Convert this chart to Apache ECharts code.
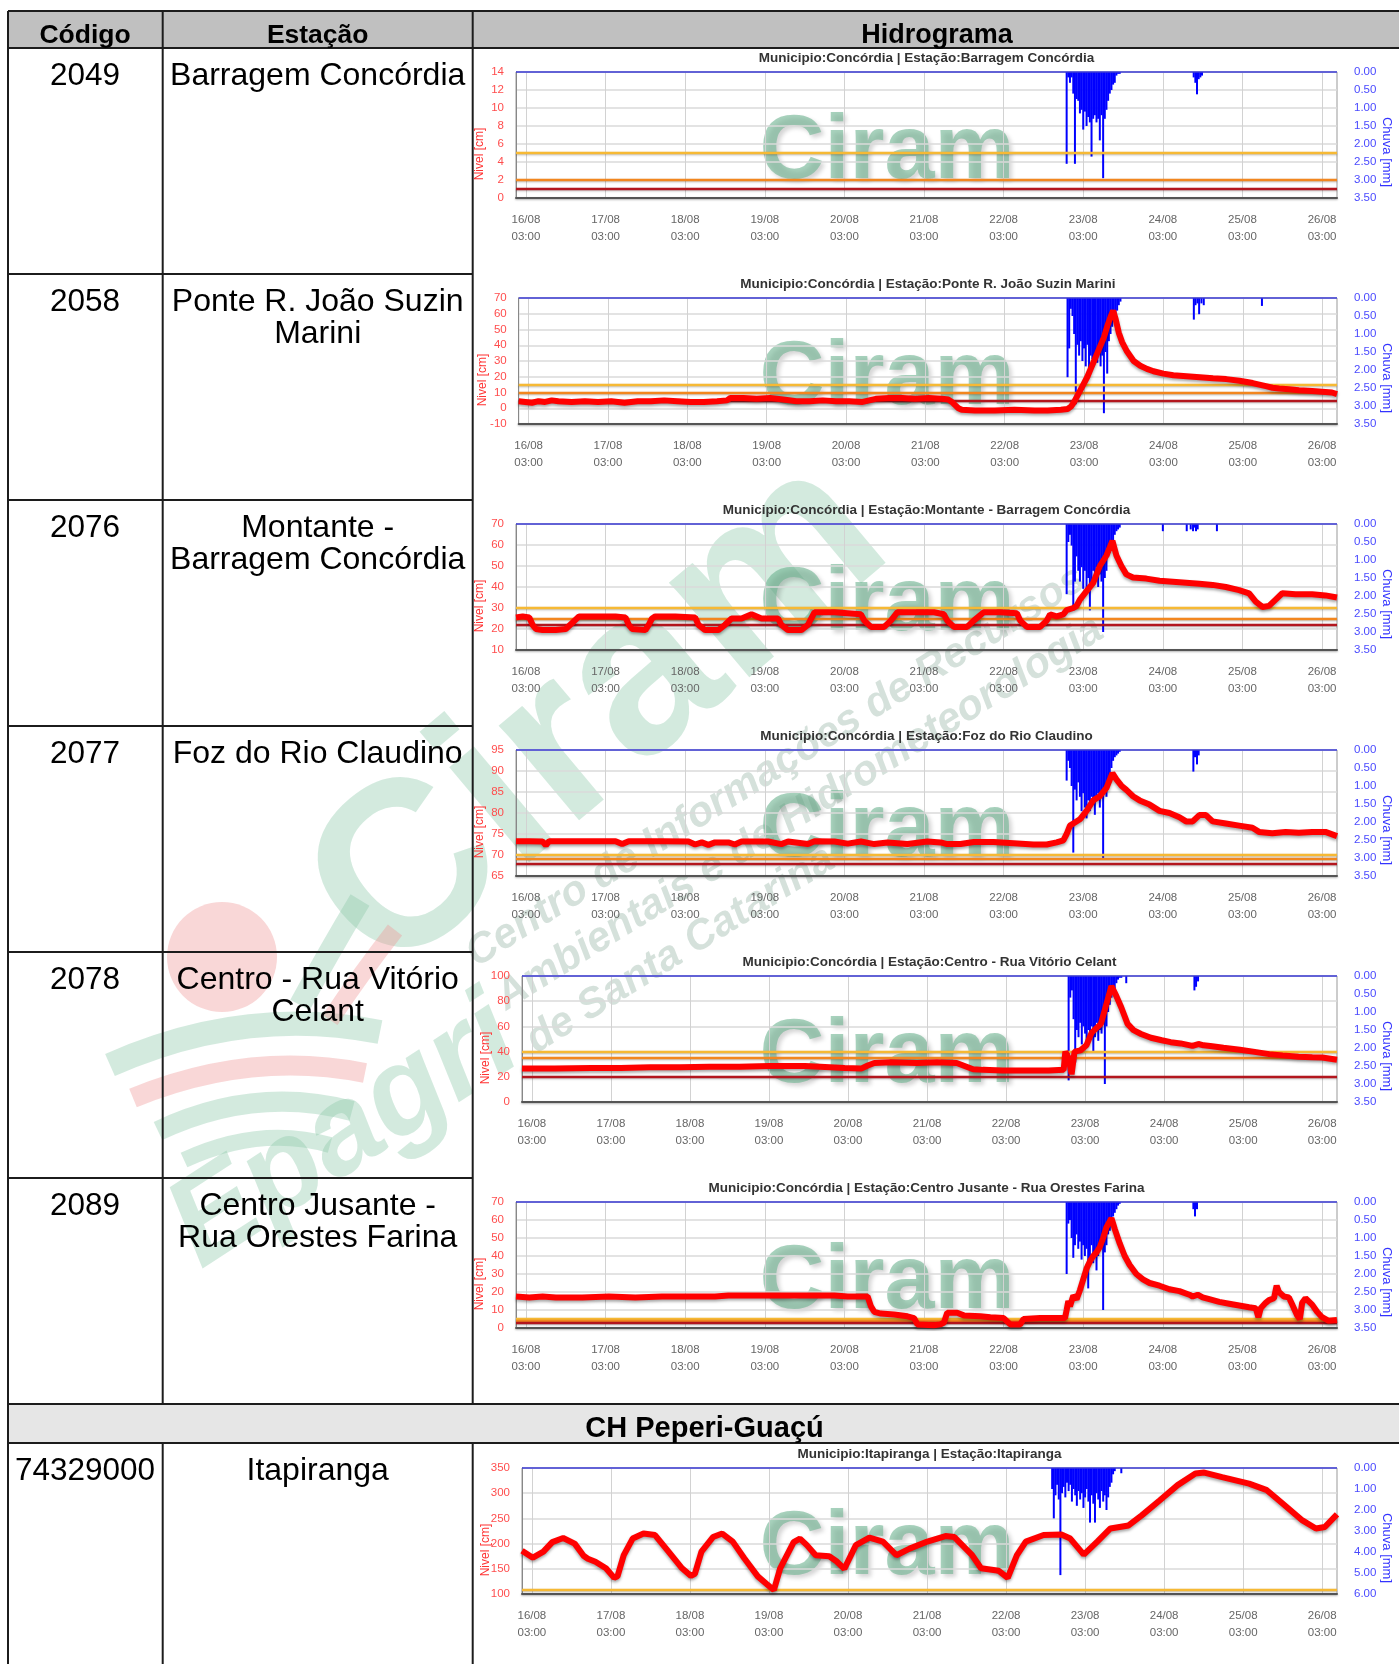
<!DOCTYPE html>
<html>
<head>
<meta charset="utf-8">
<title>Hidrogramas</title>
<script src="https://cdn.jsdelivr.net/npm/echarts@6/dist/echarts.min.js"></script>
<style>
  html, body { margin: 0; padding: 0; background: #fff; }
  #main { width: 1399px; height: 1664px; }
</style>
</head>
<body>
<div id="main"></div>
<script>
// eixo do tempo: horas desde 16/08 00:00
const TICK_HOURS = [3, 27, 51, 75, 99, 123, 147, 171, 195, 219, 243];
const TICK_DAYS = ['16/08', '17/08', '18/08', '19/08', '20/08', '21/08', '22/08', '23/08', '24/08', '25/08', '26/08'];

const CODES = ['2049', '2058', '2076', '2077', '2078', '2089', '74329000'];
const NAMES = [
  ['Barragem Concórdia'],
  ['Ponte R. João Suzin', 'Marini'],
  ['Montante -', 'Barragem Concórdia'],
  ['Foz do Rio Claudino'],
  ['Centro - Rua Vitório', 'Celant'],
  ['Centro Jusante -', 'Rua Orestes Farina'],
  ['Itapiranga']
];
const TITLES = [
  'Municipio:Concórdia | Estação:Barragem Concórdia',
  'Municipio:Concórdia | Estação:Ponte R. João Suzin Marini',
  'Municipio:Concórdia | Estação:Montante - Barragem Concórdia',
  'Municipio:Concórdia | Estação:Foz do Rio Claudino',
  'Municipio:Concórdia | Estação:Centro - Rua Vitório Celant',
  'Municipio:Concórdia | Estação:Centro Jusante - Rua Orestes Farina',
  'Municipio:Itapiranga | Estação:Itapiranga'
];

// escalas do nivel [cm] e chuva [mm]
const NIVEL_MIN = [0, -10, 10, 65, 0, 0, 100];
const NIVEL_MAX = [14, 70, 70, 95, 100, 70, 350];
const NIVEL_STEP = [2, 10, 10, 5, 20, 10, 50];
const CHUVA_MAX = [3.5, 3.5, 3.5, 3.5, 3.5, 3.5, 6];
const CHUVA_STEP = [0.5, 0.5, 0.5, 0.5, 0.5, 0.5, 1];

// cotas de referencia (amarela, laranja, vermelha)
const COTAS = [[5, 2, 1], [15, 10, 5], [30, 25, 22], [70, 69, 68], [40, 35, 20], [5, 4, 3], [108]];

// nivel [hora, cm]
const NIVEL_2049 = [];
const NIVEL_2058 = [[0,4.5],[2,4],[4,3.5],[6,4.5],[8,4],[10,5],[12,4.5],[16,4],[20,4.5],[24,4],[28,4.5],[32,3.5],[36,4.5],[40,4.5],[44,5],[48,4.5],[52,4],[56,4],[60,4.5],[63,5],[64,6.5],[68,6.5],[72,6],[76,6.5],[80,5.5],[84,4.5],[88,4.5],[92,5],[96,4.5],[100,4.5],[104,4],[106,5],[108,6],[112,6.5],[116,6.5],[120,6],[124,6.5],[128,6],[130,5.5],[131,4],[132,2],[133,0],[134,-1],[138,-1.5],[144,-1.5],[150,-1],[156,-1.5],[160,-1.5],[164,-1],[166,-0.5],[167,1],[168,4],[169,8],[170,12],[171,16],[172,20],[173,25],[174,30],[175,35],[176,40],[177,45],[178,52],[179,58],[179.8,62],[180.5,57],[181.5,48],[182.5,42],[184,36],[186,30],[188,27],[190,25],[192,23.5],[195,22],[198,21],[201,20.5],[204,20],[207,19.5],[210,19],[214,18.5],[218,17.5],[222,16],[224,15],[226,14],[228,13],[230,12.5],[233,12],[236,11.5],[240,11],[243,10.5],[246,10],[247.5,9]];
const NIVEL_2076 = [[0,25.5],[2,26],[4,25.5],[5,22],[6,20],[8,19.5],[12,19.5],[15,20],[17,23],[19,26],[24,26],[30,26],[33,25.5],[34,22],[35,20],[39,19.5],[40,22],[41,25],[42,26],[48,26],[54,25.5],[55,22],[57,19.5],[61,19.5],[63,22],[65,25],[68,25],[71,27],[74,25],[79,25],[80,22],[82,19.5],[86,19.5],[88,22],[90,28],[96,28],[100,27.5],[104,27],[105,24],[107,21],[111,21],[113,24],[115,28],[120,28],[126,28],[129,27],[130,24],[132,21],[136,21],[138,24],[141,28],[146,28],[151,27.5],[152,24],[154,21],[158,21],[160,24],[161,27],[163,26],[165,27],[166,29],[168,30],[169,31],[170,34],[172,38],[174,42],[176,50],[178,55],[179.8,62],[181,55],[182.5,50],[184,46],[186,44.5],[190,44],[194,43],[198,42.5],[202,42],[206,41.5],[210,41],[214,40],[218,38.5],[221,37],[223,33],[225,30.5],[227,31],[229,34],[231,37],[235,36.5],[240,36.5],[244,36],[247.5,35]];
const NIVEL_2077 = [[0,73.3],[4,73.3],[8,73.2],[9,72.3],[10,73.3],[20,73.3],[30,73.3],[32,72.6],[34,73.3],[44,73.3],[52,73.2],[54,72.5],[56,73],[58,72.4],[60,73],[64,73],[66,72.5],[68,73.2],[76,73.2],[80,72.6],[82,73.2],[88,72.6],[90,73.3],[96,73.2],[100,72.7],[104,73.2],[108,72.6],[112,73],[118,72.6],[124,73.2],[128,73],[130,72.6],[134,72.6],[138,73.1],[144,73.1],[150,72.8],[156,72.5],[160,72.5],[163,73],[165,73.5],[166,75],[167,77],[168,77.5],[170,78.5],[172,80.5],[174,83],[176,84],[178,86],[179.8,89.5],[181,88],[182.5,86.5],[184,85.5],[186,84],[188,83],[191,82],[194,80.5],[197,80],[200,79],[202,78],[204,78],[206,79.5],[208,79.5],[210,78],[214,77.5],[218,77],[222,76.5],[224,75.5],[228,75.2],[232,75.5],[236,75.3],[240,75.5],[244,75.5],[247.5,74.5]];
const NIVEL_2078 = [[0,26.5],[10,26.5],[21,27],[30,27],[39,27.5],[48,27.5],[57,28],[66,28],[75,28.5],[86,28.5],[98,27],[103,26.5],[105,29],[107,31],[112,31.5],[120,31],[126,31.5],[132,31],[134,29],[137,26],[140,25.5],[146,25],[154,25],[160,25],[164.5,25.5],[165,40],[166,35],[166.9,22],[167.8,40],[169.6,41],[171.4,45],[173,55],[175.8,62],[177.5,78],[179,92],[180.5,84],[182,75],[183.9,62],[185.7,57],[188,54],[191,51],[194.3,49],[197,47.5],[200,46.5],[203.6,44.5],[205.4,46],[207,45],[209,44.5],[213,43],[218,41.5],[222,40],[226.9,38],[231,37],[235.8,36],[240,35.5],[243,35.3],[247.5,33.5]];
const NIVEL_2089 = [[0,17.5],[4,17],[8,17.5],[12,17],[20,17],[28,17.5],[36,17],[44,17.5],[52,17.5],[60,17.5],[64,18],[72,18],[80,18],[88,18],[96,18],[100,17.5],[104,17.5],[106,17.5],[107,12],[108,9],[110,8],[114,7.5],[118,6.5],[120,5.5],[121,2],[126,1.5],[128,2],[129,3],[130,8.5],[133,8.5],[135,7],[140,6.5],[143,6],[147,5.5],[149,2],[152,2],[153,5],[158,5.5],[163,5.5],[165.5,5.5],[166,10],[166.5,15],[167,12],[168,18],[169,16],[170,21],[171,27],[172,33],[173,37],[174,40],[175,42],[176,45],[177,50],[178,56],[179.5,61],[180.5,55],[182,47],[183.5,40],[185,35],[187,30],[189,27],[191,25],[194,23.5],[197,21.5],[200,20.5],[203,18.5],[204,17.5],[205.5,18.5],[207,17],[209,16],[212,14.5],[215,13.5],[218,12.5],[221,11.5],[223,11],[223.8,6],[224.5,11],[226,14],[227,15.5],[228.5,16.5],[229.3,23.5],[230,20],[231.5,17.5],[233,17],[234,13],[235.5,7],[236.3,5],[237,14],[238,16.5],[240,13],[241.5,9],[243,6],[245,4],[247.5,4.5]];
const NIVEL_ITA = [[0,186],[3.3,172],[6.5,184],[9.2,203],[12.5,211],[16,200],[18.7,176],[20,170],[22.3,164],[25.5,151],[28,132],[29,135],[30.9,177],[33.6,210],[36.9,220],[40.4,217],[44.5,184],[48.6,151],[51.3,136],[52.5,140],[54.5,184],[58,213],[60.8,220],[64,204],[67.5,171],[71.6,135],[75.7,112],[76.5,108],[78.4,151],[82.5,203],[84.4,210],[86.5,197],[89.2,177],[93.3,175],[95.5,165],[97.9,150],[101.4,197],[105.5,212],[109.6,204],[113.7,177],[117.7,190],[123.1,204],[128.6,215],[131.3,213],[136.7,177],[139.4,151],[144.8,146],[147.5,132],[150.3,177],[153,204],[158.4,217],[163.8,218],[166.5,210],[170.6,178],[174.7,204],[178.7,230],[184.2,236],[188.2,256],[193.7,286],[199.1,316],[204.5,339],[207.2,341],[212.6,332],[220.8,319],[226.2,306],[231.6,276],[237,246],[241.1,230],[243.8,233],[247.5,258]];
const NIVEIS = [NIVEL_2049, NIVEL_2058, NIVEL_2076, NIVEL_2077, NIVEL_2078, NIVEL_2089, NIVEL_ITA];

// chuva [mm] a cada meia hora
const RAIN_HOURS = [166,166.5,167,167.5,168,168.5,169,169.5,170,170.5,171,171.5,172,172.5,173,173.5,174,174.5,175,175.5,176,176.5,177,177.5,178,178.5,179,179.5,180,180.5,181,181.5,182];
const RAIN_2049 = [2.55,0.15,0.3,0.15,0.6,2.55,0.75,0.8,1.15,1.05,1.6,1.1,1.5,1.25,1.4,2.35,1.3,1.2,1.4,1.3,1.9,1.2,2.95,1.3,1.05,0.8,0.6,0.5,0.35,0.3,0.1,0.05,0.05];
const RAIN_2058 = [2.2,1.4,0.3,0.5,1.0,2.95,1.3,1.6,1.2,1.75,1.4,1.9,1.3,2.0,1.6,1.7,1.9,1.5,1.8,1.4,1.9,1.6,3.2,1.5,2.1,1.2,1.0,0.8,0.5,0.55,0.35,0.2,0.1];
const RAIN_2076 = [1.95,0.5,0.3,0.6,2.4,1.6,0.9,1.3,1.6,1.2,1.8,1.3,1.85,1.5,2.4,1.7,1.3,1.6,1.2,1.75,1.4,1.6,3.0,1.5,1.3,0.9,0.8,0.6,0.55,0.3,0.2,0.15,0.1];
const RAIN_2077 = [0.85,0.3,0.5,1.0,2.85,1.1,1.4,0.9,1.3,1.7,1.2,1.6,1.9,1.4,1.7,1.3,1.5,1.8,1.4,1.2,1.6,1.3,3.0,1.2,1.3,0.8,0.7,0.5,0.3,0.2,0.15,0.1,0.05];
const RAIN_2078 = [2.9,0.6,0.4,1.2,2.4,1.5,1.7,1.3,1.9,1.4,1.6,2.0,1.5,1.8,1.4,2.1,1.7,1.3,1.8,1.5,1.6,1.2,3.0,1.4,1.0,0.8,0.6,0.5,0.35,0.2,0.1,0.05,0.05];
const RAIN_2089 = [2.0,0.6,0.5,1.0,1.55,1.2,0.9,1.3,1.1,1.6,1.2,1.5,1.3,2.4,1.6,1.2,1.7,1.4,1.9,1.5,1.3,1.1,3.0,1.4,1.2,0.9,0.8,0.6,0.4,0.3,0.2,0.1,0.05];
const RAIN_HOURS_ITA = [161,161.5,162,162.5,163,163.5,164,164.5,165,165.5,166,166.5,167,167.5,168,168.5,169,169.5,170,170.5,171,171.5,172,172.5,173,173.5,174,174.5,175,175.5,176,176.5,177,177.5,178,178.5,179,179.5,180,180.5,181,181.5,182];
const RAIN_ITA = [1.0,2.4,1.3,0.8,1.5,5.1,1.2,0.9,1.4,0.7,1.1,0.8,1.6,1.0,1.3,1.8,1.1,1.5,1.2,1.9,1.4,1.0,1.6,2.6,1.3,1.7,2.6,1.2,1.5,1.9,1.1,1.6,1.3,2.0,1.4,0.9,0.7,0.3,0.15,0,0,0,0.25];
// pancadas isoladas depois do evento [hora, mm]
const EXTRA_2049 = [[204.3,0.15],[204.8,0.3],[205.3,0.62],[205.8,0.2],[206.3,0.15],[206.8,0.1]];
const EXTRA_2058 = [[204.2,0.6],[204.7,0.2],[205.3,0.15],[205.8,0.45],[206.5,0.15],[207.2,0.2],[224.8,0.22]];
const EXTRA_2076 = [[195,0.2],[202.2,0.2],[203.4,0.15],[204.1,0.2],[204.6,0.1],[205,0.2],[205.5,0.15],[211.3,0.2]];
const EXTRA_2077 = [[204.2,0.6],[204.7,0.2],[205.3,0.4],[205.8,0.15]];
const EXTRA_2078 = [[183.5,0.2],[204.2,0.4],[204.7,0.3],[205.3,0.15]];
const EXTRA_2089 = [[204.2,0.2],[204.7,0.4],[205.3,0.2]];
const EXTRA_ITA = [];

const RAINS = [RAIN_2049, RAIN_2058, RAIN_2076, RAIN_2077, RAIN_2078, RAIN_2089, RAIN_ITA];
const EXTRAS = [EXTRA_2049, EXTRA_2058, EXTRA_2076, EXTRA_2077, EXTRA_2078, EXTRA_2089, EXTRA_ITA];

const FONT = '"Liberation Sans", Arial, Helvetica, sans-serif';
const COTA_COLORS = ['#f6b934', '#f2861f', '#b3161e'];
const PLOT_LEFT = [516, 518.7, 516, 516, 522, 516, 522];
const PLOT_TOP = [72, 298, 524, 750, 976, 1202, 1468];
const PLOT_RIGHT = 1337;
const PLOT_H = 126;

const myChart = echarts.init(document.getElementById('main'), null, { renderer: 'canvas', width: 1399, height: 1664 });

const grids = [], xAxes = [], yAxes = [], series = [], graphics = [];
const rad = d => d * Math.PI / 180;

function txt(x, y, s, size, weight, opts) {
  opts = opts || {};
  return {
    type: 'text', x: x, y: y, z: opts.z == null ? 50 : opts.z, silent: true, rotation: opts.rotation || 0,
    style: {
      text: s, font: (opts.italic ? 'italic ' : '') + weight + ' ' + size + 'px ' + FONT,
      fill: opts.fill || '#000', textAlign: opts.align || 'center', align: opts.align || 'center',
      textVerticalAlign: 'middle', verticalAlign: 'middle',
      textShadowColor: opts.shadow || 'transparent', textShadowBlur: opts.shadow ? 4 : 0,
      textShadowOffsetX: opts.shadow ? 3 : 0, textShadowOffsetY: opts.shadow ? 3 : 0
    }
  };
}
function seg(x1, y1, x2, y2) {
  return { type: 'line', z: 50, silent: true, shape: { x1: x1, y1: y1, x2: x2, y2: y2 }, style: { stroke: '#1c1c1c', lineWidth: 2 } };
}

for (let i = 0; i < 7; i++) {
  const left = PLOT_LEFT[i], top = PLOT_TOP[i];
  grids.push({ left: left, top: top, width: PLOT_RIGHT - left, height: PLOT_H, show: true, borderColor: '#999', borderWidth: 1, outerBoundsMode: 'none' });
  xAxes.push({
    type: 'value', gridIndex: i, min: 0, max: 247.5,
    axisLine: { show: true, onZero: false, lineStyle: { color: '#555', width: 2, shadowColor: 'rgba(0,0,0,0.3)', shadowBlur: 2, shadowOffsetY: 1 } },
    axisTick: { show: false, customValues: TICK_HOURS },
    axisLabel: {
      customValues: TICK_HOURS, color: '#666', fontSize: 11.5, fontFamily: FONT, lineHeight: 17, margin: 13,
      formatter: v => TICK_DAYS[TICK_HOURS.indexOf(Math.round(v))] + '\n03:00'
    },
    splitLine: { show: true, lineStyle: { color: '#d2d2d2', width: 1 } }
  });
  yAxes.push({
    type: 'value', gridIndex: i, position: 'left', min: NIVEL_MIN[i], max: NIVEL_MAX[i], interval: NIVEL_STEP[i],
    axisLine: { show: true, onZero: false, lineStyle: { color: '#888' } },
    axisTick: { show: false },
    axisLabel: { color: '#ff4d4d', fontSize: 11.5, fontFamily: FONT, margin: 12 },
    splitLine: { show: true, lineStyle: { color: '#dadada', width: 1.5 } },
    name: 'Nivel [cm]', nameLocation: 'middle', nameRotate: 90, nameGap: 30, nameMoveOverlap: false,
    nameTextStyle: { color: '#ff3333', fontSize: 12, fontFamily: FONT, padding: [0, 38, 0, 0] }
  });
  yAxes.push({
    type: 'value', gridIndex: i, position: 'right', inverse: true, min: 0, max: CHUVA_MAX[i], interval: CHUVA_STEP[i],
    axisLine: { show: false }, axisTick: { show: false }, splitLine: { show: false },
    axisLabel: { color: '#4a4aff', fontSize: 11.5, fontFamily: FONT, margin: 17, formatter: v => v.toFixed(2) },
    name: 'Chuva [mm]', nameLocation: 'middle', nameRotate: -90, nameGap: 43, nameMoveOverlap: false,
    nameTextStyle: { color: '#3333ff', fontSize: 13, fontFamily: FONT, padding: [0, 0, 0, 34] }
  });

  // cotas de referencia
  series.push({
    type: 'line', xAxisIndex: i, yAxisIndex: 2 * i, data: [], z: 3, silent: true,
    markLine: {
      silent: true, symbol: 'none', label: { show: false }, animation: false,
      data: COTAS[i].map((v, j) => ({
        yAxis: v,
        lineStyle: { color: COTA_COLORS[j], width: 2.4, type: 'solid', shadowColor: 'rgba(0,0,0,0.25)', shadowBlur: 2, shadowOffsetY: 1 }
      }))
    }
  });
  // chuva
  const hours = i === 6 ? RAIN_HOURS_ITA : RAIN_HOURS;
  const rainData = hours.map((h, k) => [h, RAINS[i][k]]).concat(EXTRAS[i]);
  series.push({
    type: 'bar', xAxisIndex: i, yAxisIndex: 2 * i + 1, data: rainData, barWidth: 2, z: 3, silent: true,
    itemStyle: { color: '#0000ff' },
    markLine: {
      silent: true, symbol: 'none', label: { show: false }, animation: false,
      data: [{ yAxis: 0, lineStyle: { color: '#3b3bd6', width: 1.6, type: 'solid' } }]
    }
  });
  // nivel
  series.push({
    type: 'line', xAxisIndex: i, yAxisIndex: 2 * i, data: NIVEIS[i], symbol: 'none', z: 5, silent: true,
    lineStyle: { color: '#ff0000', width: 6, shadowColor: 'rgba(0,0,0,0.35)', shadowBlur: 3, shadowOffsetY: 2 }
  });

  // titulo e marca d'agua do grafico
  graphics.push(txt((left + PLOT_RIGHT) / 2, top - 14, TITLES[i], 13.5, 'bold', { fill: '#333' }));
  graphics.push(txt(887, top + 81, 'Ciram', 90, 'bold', { fill: 'rgba(110,180,145,0.6)', shadow: 'rgba(0,0,0,0.28)', z: -5 }));
}

// tabela
const ROW_TOPS = [48, 274, 500, 726, 952, 1178, 1443];
graphics.push({ type: 'rect', z: -20, silent: true, shape: { x: 8, y: 11, width: 1393, height: 37 }, style: { fill: '#c0c0c0' } });
graphics.push({ type: 'rect', z: -20, silent: true, shape: { x: 8, y: 1404, width: 1393, height: 39 }, style: { fill: '#e6e6e6' } });
[11, 48, 1404, 1443].forEach(y => graphics.push(seg(8, y, 1399, y)));
[274, 500, 726, 952, 1178].forEach(y => graphics.push(seg(8, y, 472.7, y)));
graphics.push(seg(8, 11, 8, 1664));
[162.7, 472.7].forEach(x => { graphics.push(seg(x, 11, x, 1404)); graphics.push(seg(x, 1443, x, 1664)); });

graphics.push(txt(85, 36, 'Código', 26.5, 'bold'));
graphics.push(txt(317.7, 36, 'Estação', 26.5, 'bold'));
graphics.push(txt(937, 36, 'Hidrograma', 27, 'bold'));
graphics.push(txt(704.5, 1429, 'CH Peperi-Guaçú', 29, 'bold'));
for (let i = 0; i < 7; i++) {
  const y0 = ROW_TOPS[i] + 28;
  graphics.push(txt(85, y0, CODES[i], 31.5, 'normal'));
  NAMES[i].forEach((s, k) => graphics.push(txt(317.7, y0 + 32 * k, s, 32, 'normal')));
}

// marca d'agua grande (Epagri / Ciram)
const WM_GREEN = 'rgba(140,200,168,0.38)';
const WM_PINK = 'rgba(240,150,150,0.38)';
graphics.push(txt(600, 718, 'Ciram', 235, 'bold', { fill: WM_GREEN, rotation: rad(40), z: -10 }));
graphics.push(txt(345, 1135, 'Epagri', 125, 'bold', { fill: WM_GREEN, rotation: rad(33), italic: true, z: -10 }));
graphics.push({ type: 'circle', z: -10, silent: true, shape: { cx: 222, cy: 957, r: 55 }, style: { fill: WM_PINK } });
const bands = [
  [110, 1065, 245, 1005, 380, 1032, WM_GREEN, 24],
  [133, 1098, 250, 1050, 365, 1073, WM_PINK, 20],
  [158, 1131, 255, 1085, 352, 1111, WM_GREEN, 20],
  [184, 1160, 260, 1125, 330, 1145, WM_GREEN, 16],
  [300, 1005, 330, 950, 360, 900, WM_GREEN, 22],
  [330, 1020, 360, 975, 395, 930, WM_PINK, 18]
];
bands.forEach(b => graphics.push({
  type: 'bezierCurve', z: -10, silent: true,
  shape: { x1: b[0], y1: b[1], cpx1: b[2], cpy1: b[3], x2: b[4], y2: b[5] },
  style: { stroke: b[6], lineWidth: b[7], fill: null }
}));
const WM_TEXT = 'rgba(150,180,165,0.4)';
graphics.push(txt(470, 958, 'Centro de Informações de Recursos', 42, 'bold', { fill: WM_TEXT, rotation: rad(32), italic: true, align: 'left', z: -10 }));
graphics.push(txt(500, 1001, 'Ambientais e de Hidrometeorologia', 42, 'bold', { fill: WM_TEXT, rotation: rad(32), italic: true, align: 'left', z: -10 }));
graphics.push(txt(530, 1044, 'de Santa Catarina', 42, 'bold', { fill: WM_TEXT, rotation: rad(32), italic: true, align: 'left', z: -10 }));

myChart.setOption({
  animation: false,
  backgroundColor: '#fff',
  grid: grids,
  xAxis: xAxes,
  yAxis: yAxes,
  series: series,
  graphic: { elements: graphics }
});
</script>
</body>
</html>
